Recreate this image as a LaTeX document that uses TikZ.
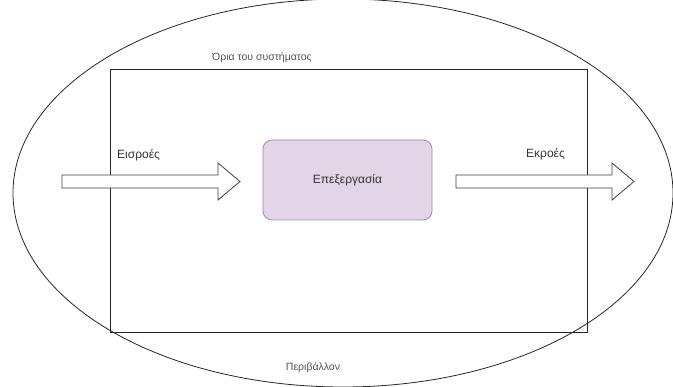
\documentclass[tikz,border=0pt]{standalone}
\usepackage{fontspec}
\setmainfont{Liberation Sans}
\definecolor{procfill}{HTML}{E1D5E7}
\definecolor{procdraw}{HTML}{9E8AA8}
\definecolor{textgray}{HTML}{333333}
\begin{document}
\begin{tikzpicture}[x=1pt,y=-1pt,
  outline/.style={draw=black!85, line width=0.9pt},
  blockarrow/.style={draw=black!75, line width=0.8pt, fill=white, line join=miter},
  lbl/.style={text=textgray, font=\fontsize{12}{14}\selectfont, inner sep=0pt},
  smalllbl/.style={text=textgray!85, font=\fontsize{10.5}{12}\selectfont, inner sep=0pt}]
\useasboundingbox (0,0) rectangle (673,387);
\clip (0,0) rectangle (673,387);
% environment
\draw[outline, line width=0.8pt] (343,193) ellipse [x radius=330, y radius=194];
% system boundary
\draw[outline] (110,69) rectangle (587,332);
% process
\node[draw=procdraw, fill=procfill, rounded corners=9pt, line width=0.8pt,
      minimum width=169pt, minimum height=80pt, text=textgray,
      font=\fontsize{12}{14}\selectfont] (proc) at (347.5,180) {Επεξεργασία};
% input arrow
\draw[blockarrow] (62,175) -- (218,175) -- (218,163) -- (240,181.5) -- (218,200) -- (218,188) -- (62,188) -- cycle;
% output arrow
\draw[blockarrow] (456,175) -- (612,175) -- (612,163) -- (634,181.5) -- (612,200) -- (612,188) -- (456,188) -- cycle;
% labels
\node[lbl, anchor=west] (in) at (117,155) {Εισροές};
\node[lbl, anchor=west] (out) at (526,154) {Εκροές};
\node[smalllbl] (sys) at (262,58) {Όρια του συστήματος};
\node[smalllbl] (env) at (313,368) {Περιβάλλον};
\end{tikzpicture}
\end{document}
